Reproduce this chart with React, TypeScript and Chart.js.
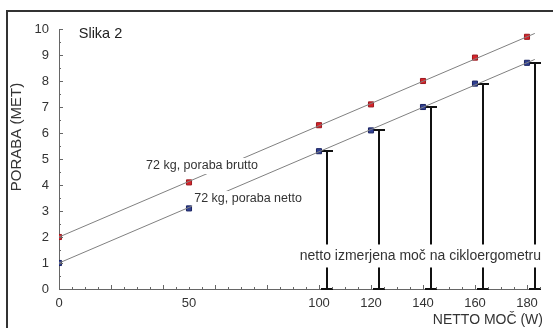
import React, { useEffect, useRef } from "react";
import { Chart, registerables } from "chart.js";

Chart.register(...registerables);

// ---- data ----
const powerW = [0, 50, 100, 120, 140, 160, 180];
const grossMET = [2.0, 4.1, 6.3, 7.1, 8.0, 8.9, 9.7];
const netMET = [1.0, 3.1, 5.3, 6.1, 7.0, 7.9, 8.7];
const fitW = [0, 183];
const grossFit = [2.0, 9.83];
const netFit = [1.0, 8.83];
const measuredW = [103, 123, 143, 163, 183];
const measuredMET = [5.3, 6.1, 7.0, 7.9, 8.7];
const xTickValues = [0, 50, 100, 120, 140, 160, 180];
const yTickValues = [0, 1, 2, 3, 4, 5, 6, 7, 8, 9, 10];

const figTitle = "Slika 2";
const grossLabel = "72 kg, poraba brutto";
const netLabel = "72 kg, poraba netto";
const measuredLabel = "netto izmerjena moč na cikloergometru";
const yTitle = "PORABA (MET)";
const xTitle = "NETTO MOČ (W)";

const FONT = "'Liberation Sans', Arial, sans-serif";
const TEXT = "#333";

function boxedText(ctx: CanvasRenderingContext2D, text: string, px: number, py: number, font: string, align: CanvasTextAlign, padX: number, halfH: number) {
  ctx.font = font;
  const w = ctx.measureText(text).width;
  let left = px;
  if (align === "center") left = px - w / 2;
  if (align === "right") left = px - w;
  ctx.fillStyle = "#fff";
  ctx.fillRect(left - padX, py - halfH, w + 2 * padX, 2 * halfH);
  ctx.fillStyle = TEXT;
  ctx.textAlign = "left";
  ctx.textBaseline = "middle";
  ctx.fillText(text, left, py);
}

const overlay = {
  id: "overlay",
  beforeDatasetsDraw(chart: any) {
    const { ctx, scales } = chart;
    const x = scales.x, y = scales.y;
    ctx.save();
    ctx.strokeStyle = "#111";
    ctx.lineWidth = 2;
    measuredW.forEach((w, i) => {
      const px = Math.round(x.getPixelForValue(w));
      const top = Math.round(y.getPixelForValue(measuredMET[i]));
      const bot = Math.round(y.getPixelForValue(0));
      ctx.beginPath();
      ctx.moveTo(px, top);
      ctx.lineTo(px, bot);
      ctx.moveTo(px - 6, top);
      ctx.lineTo(px + 6, top);
      ctx.moveTo(px - 6, bot);
      ctx.lineTo(px + 6, bot);
      ctx.stroke();
    });
    ctx.restore();
  },
  afterDatasetsDraw(chart: any) {
    const { ctx, scales } = chart;
    const x = scales.x, y = scales.y;
    ctx.save();
    boxedText(ctx, grossLabel, x.getPixelForValue(33.5), y.getPixelForValue(4.73), `12.5px ${FONT}`, "left", 2, 8);
    boxedText(ctx, netLabel, x.getPixelForValue(52), y.getPixelForValue(3.46), `12.5px ${FONT}`, "left", 2, 8);
    boxedText(ctx, measuredLabel, x.getPixelForValue(139), y.getPixelForValue(1.27), `14px ${FONT}`, "center", 4, 11.5);
    ctx.restore();
  },
  afterDraw(chart: any) {
    const { ctx, scales } = chart;
    const x = scales.x, y = scales.y;
    const x0 = x.getPixelForValue(0);
    const y0 = y.getPixelForValue(0);
    ctx.save();
    // inward ticks
    ctx.strokeStyle = "#666";
    ctx.lineWidth = 1;
    ctx.beginPath();
    for (let v = 0; v <= 10; v += 0.5) {
      const py = Math.round(y.getPixelForValue(v)) + 0.5;
      const len = Number.isInteger(v) ? 4 : 2;
      ctx.moveTo(x0, py);
      ctx.lineTo(x0 + len, py);
    }
    for (let w = 5; w <= 185; w += 5) {
      const px = Math.round(x.getPixelForValue(w)) + 0.5;
      const len = w % 20 === 0 ? 4 : 2;
      ctx.moveTo(px, y0);
      ctx.lineTo(px, y0 - len);
    }
    ctx.stroke();

    // figure title
    ctx.fillStyle = "#222";
    ctx.font = `14.5px ${FONT}`;
    ctx.textAlign = "left";
    ctx.textBaseline = "middle";
    ctx.fillText(figTitle, x.getPixelForValue(7.6), y.getPixelForValue(9.8));

    // axis titles
    ctx.fillStyle = TEXT;
    ctx.font = `14px ${FONT}`;
    ctx.textAlign = "right";
    ctx.fillText(xTitle, 543, 320);

    ctx.save();
    ctx.translate(17, 137);
    ctx.rotate(-Math.PI / 2);
    ctx.textAlign = "center";
    ctx.font = `15px ${FONT}`;
    ctx.fillText(yTitle, 0, 0);
    ctx.restore();

    // frame
    ctx.strokeStyle = "#333";
    ctx.lineWidth = 2;
    ctx.beginPath();
    ctx.moveTo(7, 328);
    ctx.lineTo(7, 11);
    ctx.lineTo(553, 11);
    ctx.stroke();
    ctx.restore();
  },
};

export default function App() {
  const ref = useRef<HTMLCanvasElement | null>(null);
  useEffect(() => {
    if (!ref.current) return;
    Chart.defaults.font.family = FONT;
    const chart = new Chart(ref.current, {
      type: "scatter",
      data: {
        datasets: [
          {
            label: "brutto fit",
            data: fitW.map((w, i) => ({ x: w, y: grossFit[i] })),
            showLine: true,
            borderColor: "#808080",
            borderWidth: 1,
            pointRadius: 0,
          },
          {
            label: "netto fit",
            data: fitW.map((w, i) => ({ x: w, y: netFit[i] })),
            showLine: true,
            borderColor: "#808080",
            borderWidth: 1,
            pointRadius: 0,
          },
          {
            label: grossLabel,
            data: powerW.map((w, i) => ({ x: w, y: grossMET[i] })),
            showLine: false,
            pointStyle: "rect",
            pointRadius: 3.6,
            backgroundColor: "#d8232a",
            borderColor: "#9a1a1f",
            borderWidth: 1,
          },
          {
            label: netLabel,
            data: powerW.map((w, i) => ({ x: w, y: netMET[i] })),
            showLine: false,
            pointStyle: "rect",
            pointRadius: 3.6,
            backgroundColor: "#2f3f92",
            borderColor: "#1b2462",
            borderWidth: 1,
          },
        ],
      },
      options: {
        animation: false,
        responsive: false,
        devicePixelRatio: 1,
        layout: { padding: { top: 29, right: 13, left: 0, bottom: 0 } },
        plugins: { legend: { display: false }, tooltip: { enabled: false } },
        scales: {
          x: {
            type: "linear",
            min: 0,
            max: 185,
            grid: { display: false, drawTicks: false },
            border: { display: true, color: "#666", width: 1 },
            ticks: { color: TEXT, font: { size: 13, family: FONT }, padding: 7, autoSkip: false, maxRotation: 0 },
            afterBuildTicks: (s: any) => {
              s.ticks = xTickValues.map((v) => ({ value: v }));
            },
            afterFit: (s: any) => {
              s.height = 39;
            },
          },
          y: {
            type: "linear",
            min: 0,
            max: 10,
            grid: { display: false, drawTicks: false },
            border: { display: true, color: "#666", width: 1 },
            ticks: { color: TEXT, font: { size: 13, family: FONT }, padding: 10, autoSkip: false },
            afterBuildTicks: (s: any) => {
              s.ticks = yTickValues.map((v) => ({ value: v }));
            },
            afterFit: (s: any) => {
              s.width = 59;
            },
          },
        },
      },
      plugins: [overlay],
    });
    return () => chart.destroy();
  }, []);

  return (
    <div style={{ position: "fixed", left: 0, top: 0, width: 553, height: 328, background: "#fff" }}>
      <canvas ref={ref} width={553} height={328} style={{ display: "block", width: 553, height: 328 }} />
    </div>
  );
}
